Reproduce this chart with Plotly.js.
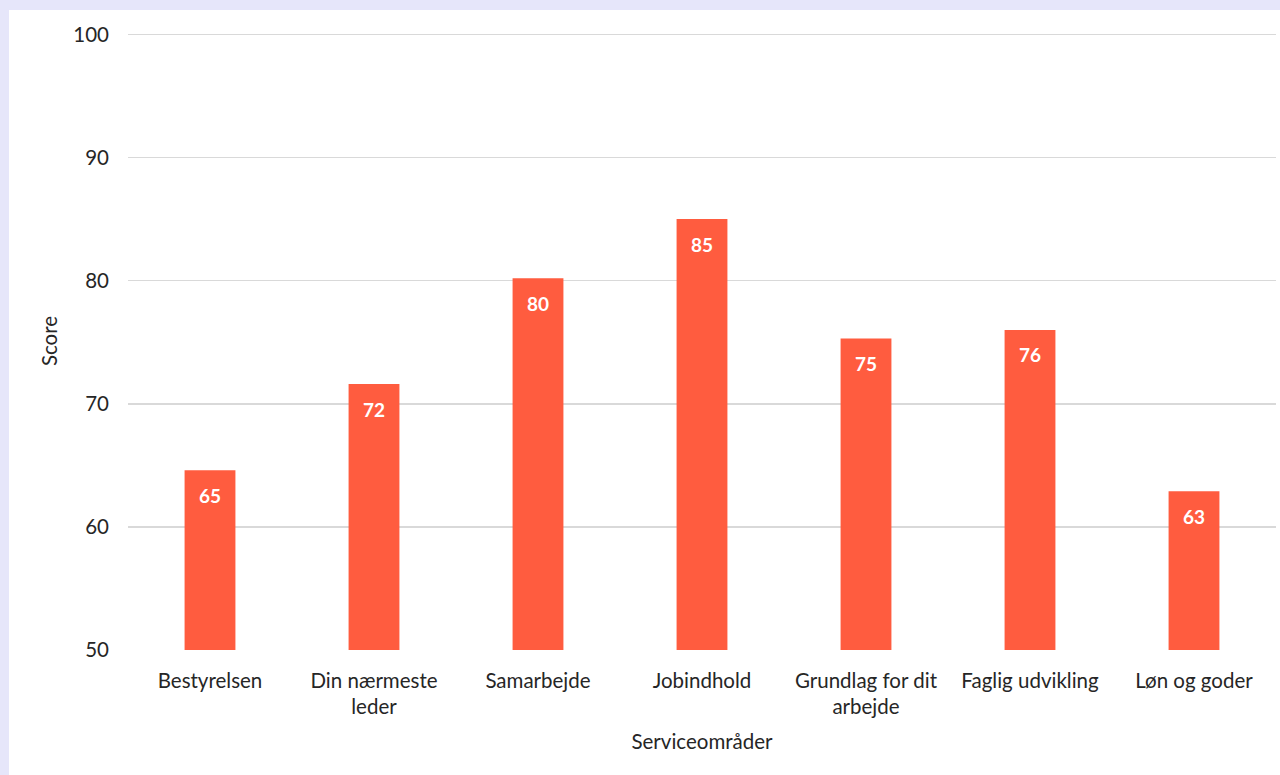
<!DOCTYPE html>
<html>
<head>
<meta charset="utf-8">
<script src="https://cdn.plot.ly/plotly-3.0.1.min.js"></script>
<style>
  html, body { margin: 0; padding: 0; background: #e6e6fa; width: 1280px; height: 775px; overflow: hidden; }
  #chart { position: absolute; left: 9px; top: 10px; width: 1271px; height: 765px; background: #ffffff; }
</style>
</head>
<body>
<div id="chart"></div>
<script>
const categories = ["Bestyrelsen", "Din nærmeste<br>leder", "Samarbejde", "Jobindhold", "Grundlag for dit<br>arbejde", "Faglig udvikling", "Løn og goder"];
const scores = [64.6, 71.6, 80.2, 85.0, 75.3, 76.0, 62.9];
const yTicks = [50, 60, 70, 80, 90, 100];

const FONT = "Lato, 'Open Sans', sans-serif";

const trace = {
  type: "bar",
  x: categories,
  y: scores,
  marker: { color: "#ff5c3f" },
  hoverinfo: "skip"
};

const valueLabels = categories.map((c, i) => ({
  x: c,
  y: scores[i],
  xref: "x",
  yref: "y",
  text: "<b>" + Math.round(scores[i]) + "</b>",
  showarrow: false,
  yanchor: "middle",
  yshift: -25,
  font: { family: FONT, size: 19, color: "#ffffff" }
}));

const layout = {
  width: 1271,
  height: 765,
  paper_bgcolor: "#ffffff",
  plot_bgcolor: "#ffffff",
  margin: { l: 119, r: 4, t: 21.5, b: 125 },
  bargap: 0.69,
  showlegend: false,
  font: { family: FONT, color: "#404040" },
  annotations: valueLabels,
  xaxis: {
    type: "category",
    tickfont: { family: FONT, size: 20.5, color: "#262626" },
    ticks: "",
    ticklabelstandoff: 16,
    showline: false,
    showgrid: false,
    title: { text: "Serviceområder", font: { family: FONT, size: 20.5, color: "#262626" }, standoff: 17 },
    automargin: false
  },
  yaxis: {
    range: [50, 100.2],
    tickvals: yTicks,
    ticktext: yTicks.map(String),
    tickfont: { family: FONT, size: 20.5, color: "#262626" },
    showgrid: true,
    gridcolor: "#d9d9d9",
    gridwidth: 1.5,
    zeroline: false,
    showline: false,
    ticks: "",
    ticklabelstandoff: 18,
    title: { text: "Score", font: { family: FONT, size: 20.5, color: "#262626" }, standoff: 10 },
    automargin: false
  }
};

Plotly.newPlot("chart", [trace], layout, { displayModeBar: false, staticPlot: true });
</script>
</body>
</html>
